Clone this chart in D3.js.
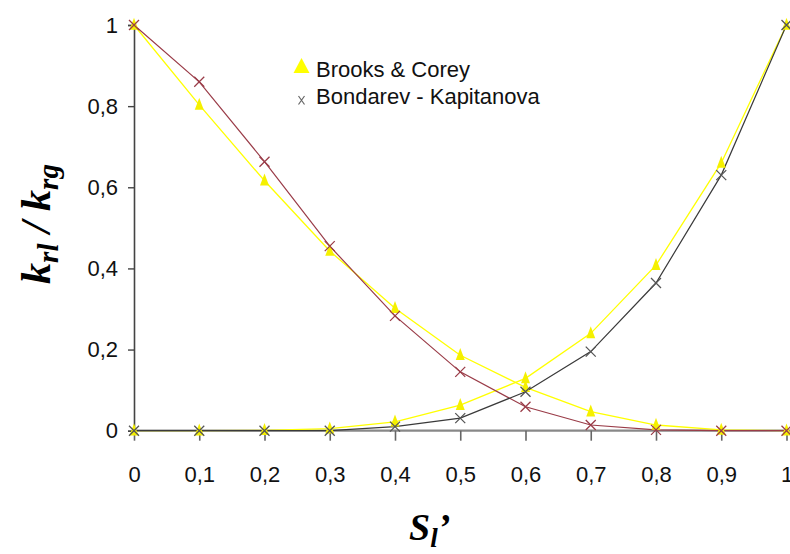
<!DOCTYPE html>
<html><head><meta charset="utf-8">
<script src="https://cdn.jsdelivr.net/npm/d3@7/dist/d3.min.js"></script>
<style>body{margin:0;background:#fff}svg{display:block}</style>
</head><body>
<script>
const sat = [0,0.1,0.2,0.3,0.4,0.5,0.6,0.7,0.8,0.9,1];
const brooksDec = [1,0.803,0.616,0.443,0.302,0.186,0.107,0.047,0.014,0.002,0];
const brooksInc = [0,0,0.001,0.005,0.022,0.063,0.129,0.24,0.408,0.66,1];
const bondDec = [1,0.86,0.663,0.455,0.283,0.145,0.059,0.014,0.002,0,0];
const bondInc = [0,0,0,0,0.01,0.031,0.096,0.195,0.364,0.63,1];
const xTicks = [0,0.1,0.2,0.3,0.4,0.5,0.6,0.7,0.8,0.9,1];
const yTicks = [0,0.2,0.4,0.6,0.8,1];
const legendLabels = ["Brooks & Corey","Bondarev - Kapitanova"];

const W=790,H=554;
const svg=d3.select("body").append("svg").attr("width",W).attr("height",H);
const x=d3.scaleLinear().domain([0,1]).range([134,786.5]);
const y=d3.scaleLinear().domain([0,1]).range([430.7,25]);
const fmt=d=>String(d).replace(".",",");

// y axis
const ya=svg.append("g").attr("transform","translate(134,0)")
  .call(d3.axisLeft(y).tickValues(yTicks).tickFormat(fmt).tickSize(6).tickPadding(10));
ya.select(".domain").attr("stroke","#444").attr("stroke-width",1.6);
ya.selectAll(".tick line").attr("stroke","#444").attr("stroke-width",1.4);
ya.selectAll(".tick text").attr("font-family","Liberation Sans, Arial, sans-serif").attr("font-size",22).attr("fill","#111");

// x axis
const xa=svg.append("g").attr("transform","translate(0,430.7)")
  .call(d3.axisBottom(x).tickValues(xTicks).tickFormat(fmt).tickSize(10).tickPadding(26));
xa.select(".domain").attr("stroke","#888").attr("stroke-width",2.2).attr("d","M134,0H790");
xa.selectAll(".tick line").attr("stroke","#666").attr("stroke-width",1.6);
xa.selectAll(".tick text").attr("font-family","Liberation Sans, Arial, sans-serif").attr("font-size",22).attr("fill","#111");

const line=d3.line().x((d,i)=>x(sat[i])).y(d=>y(d));
const series=[
 {v:brooksDec,c:"#ffff00",w:1.3,m:"tri",mc:"#f5f000"},
 {v:brooksInc,c:"#ffff00",w:1.3,m:"tri",mc:"#f5f000"},
 {v:bondDec,c:"#9a3c48",w:1.2,m:"x",mc:"#9a3c48"},
 {v:bondInc,c:"#3a3a3a",w:1.2,m:"x",mc:"#555"}
];
series.forEach(s=>{
  svg.append("path").attr("d",line(s.v)).attr("fill","none").attr("stroke",s.c).attr("stroke-width",s.w);
});
const tri=(cx,cy,w,h)=>`M${cx},${cy-h*0.6}L${cx+w/2},${cy+h*0.4}L${cx-w/2},${cy+h*0.4}Z`;
const xm=(cx,cy,r)=>`M${cx-r},${cy-r}L${cx+r},${cy+r}M${cx+r},${cy-r}L${cx-r},${cy+r}`;
series.filter(s=>s.m==="tri").forEach(s=>{
  svg.selectAll(null).data(s.v).enter().append("path")
   .attr("d",(d,i)=>tri(x(sat[i]),y(d),9,12)).attr("fill",s.mc);
});
series.filter(s=>s.m==="x").forEach(s=>{
  svg.selectAll(null).data(s.v).enter().append("path")
   .attr("d",(d,i)=>xm(x(sat[i]),y(d),5)).attr("stroke",s.mc).attr("stroke-width",1.3).attr("fill","none");
});

// legend
svg.append("path").attr("d",tri(301.5,67,16,15)).attr("fill","#ffff00");
svg.append("path").attr("d","M298.5,96L304.5,104.5M304.5,96L298.5,104.5").attr("stroke","#666").attr("stroke-width",1.2);
svg.append("text").attr("x",316).attr("y",76.5).text(legendLabels[0])
  .attr("font-family","Liberation Sans, Arial, sans-serif").attr("font-size",22).attr("fill","#111");
svg.append("text").attr("x",316).attr("y",103.5).text(legendLabels[1])
  .attr("font-family","Liberation Sans, Arial, sans-serif").attr("font-size",22).attr("fill","#111");

// y title
const yt=svg.append("text").attr("transform","translate(50,224) rotate(-90)").attr("text-anchor","middle")
  .attr("font-family","Liberation Serif, Times New Roman, serif").attr("font-weight","bold").attr("font-style","italic").attr("font-size",42).attr("fill","#000");
yt.append("tspan").text("k");
yt.append("tspan").text("rl").attr("font-size",29).attr("dy",8);
yt.append("tspan").text(" / ").attr("dy",-8);
yt.append("tspan").text("k");
yt.append("tspan").text("rg").attr("font-size",29).attr("dy",8);

// x title
const xt=svg.append("text").attr("x",409).attr("y",540)
  .attr("font-family","Liberation Serif, Times New Roman, serif").attr("font-weight","bold").attr("font-style","italic").attr("font-size",38).attr("fill","#000");
xt.append("tspan").text("S");
xt.append("tspan").text("l").attr("font-size",27).attr("dy",7);
xt.append("tspan").text("’").attr("dy",-7);
</script>
</body></html>
